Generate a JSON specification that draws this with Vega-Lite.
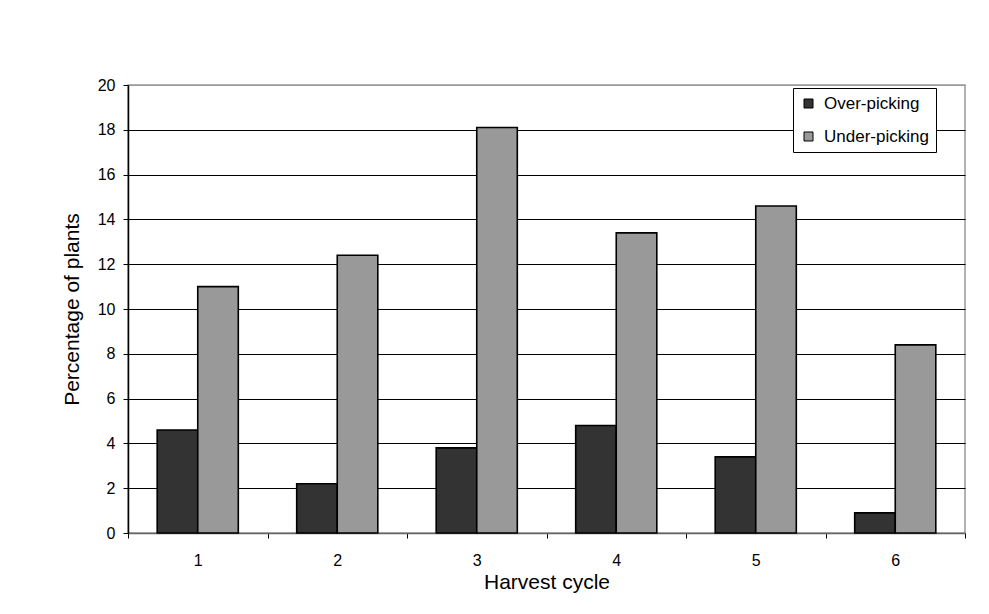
{
  "$schema": "https://vega.github.io/schema/vega-lite/v6.json",
  "width": 837,
  "height": 448,
  "autosize": {"type": "none"},
  "padding": {"left": 128, "top": 85, "right": 24, "bottom": 81},
  "background": "#ffffff",
  "data": {
    "values": [
      {"cycle": "1", "type": "Over-picking", "value": 4.6},
      {"cycle": "1", "type": "Under-picking", "value": 11.0},
      {"cycle": "2", "type": "Over-picking", "value": 2.2},
      {"cycle": "2", "type": "Under-picking", "value": 12.4},
      {"cycle": "3", "type": "Over-picking", "value": 3.8},
      {"cycle": "3", "type": "Under-picking", "value": 18.1},
      {"cycle": "4", "type": "Over-picking", "value": 4.8},
      {"cycle": "4", "type": "Under-picking", "value": 13.4},
      {"cycle": "5", "type": "Over-picking", "value": 3.4},
      {"cycle": "5", "type": "Under-picking", "value": 14.6},
      {"cycle": "6", "type": "Over-picking", "value": 0.9},
      {"cycle": "6", "type": "Under-picking", "value": 8.4}
    ]
  },
  "mark": {"type": "bar", "stroke": "#000000", "strokeWidth": 1.6},
  "encoding": {
    "x": {
      "field": "cycle",
      "type": "ordinal",
      "scale": {"paddingInner": 0, "paddingOuter": 0},
      "axis": {
        "title": "Harvest cycle",
        "labelAngle": 0,
        "tickBand": "extent",
        "grid": false,
        "domainColor": "#666666",
        "tickColor": "#000000",
        "tickSize": 5,
        "labelPadding": 14,
        "titlePadding": 3
      }
    },
    "xOffset": {
      "field": "type",
      "scale": {"paddingInner": 0, "paddingOuter": 0.72}
    },
    "y": {
      "field": "value",
      "type": "quantitative",
      "scale": {"domain": [0, 20], "nice": false},
      "axis": {
        "title": "Percentage of plants",
        "values": [0, 2, 4, 6, 8, 10, 12, 14, 16, 18, 20],
        "grid": true,
        "gridColor": {"condition": {"test": "datum.value === 20", "value": "#999999"}, "value": "#000000"},
        "domainColor": "#000000",
        "tickColor": "#000000",
        "tickSize": 5,
        "labelPadding": 8,
        "titlePadding": 15
      }
    },
    "color": {
      "field": "type",
      "type": "nominal",
      "scale": {"domain": ["Over-picking", "Under-picking"], "range": ["#333333", "#999999"]},
      "legend": {
        "title": null,
        "orient": "none",
        "legendX": 665,
        "legendY": 3,
        "symbolType": "square",
        "symbolSize": 81,
        "symbolStrokeColor": "#000000",
        "symbolStrokeWidth": 1,
        "symbolOpacity": 1,
        "labelFontSize": 17,
        "labelFont": "Liberation Sans",
        "labelColor": "#000000",
        "labelOffset": 7,
        "rowPadding": 15,
        "padding": 7,
        "strokeColor": "#000000",
        "fillColor": "#ffffff"
      }
    }
  },
  "config": {
    "view": {"stroke": "#999999", "strokeWidth": 1.5},
    "font": "Liberation Sans",
    "axis": {
      "labelFont": "Liberation Sans",
      "labelFontSize": 16,
      "labelColor": "#000000",
      "titleFont": "Liberation Sans",
      "titleFontSize": 21,
      "titleFontWeight": "normal",
      "titleColor": "#000000",
      "gridWidth": 1,
      "domainWidth": 1.5,
      "tickWidth": 1
    }
  }
}
